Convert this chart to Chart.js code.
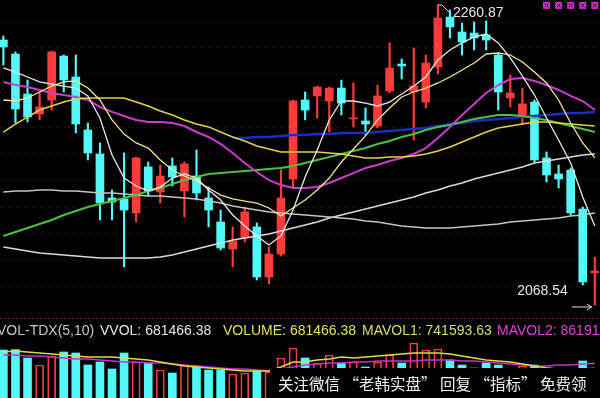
<!DOCTYPE html>
<html><head><meta charset="utf-8">
<script src="https://cdn.jsdelivr.net/npm/chart.js@4.4.1/dist/chart.umd.min.js"></script>
<style>html,body{margin:0;padding:0;background:#000;overflow:hidden}#wrap{width:600px;height:398px;position:relative;background:#000}</style>
</head><body><div id="wrap"><canvas id="c" width="600" height="398"></canvas></div>
<script>
// ---- candle data (price) ----
const opens  = [2236.8,2227.2,2199.7,2186.0,2195.6,2225.8,2211.4,2175.0,2158.5,2128.3,2127.6,2118.0,2149.6,2132.4,2150.3,2133.1,2143.4,2128.3,2111.8,2093.2,2100.8,2108.4,2074.0,2089.8,2141.3,2195.6,2198.4,2194.9,2203.8,2182.6,2181.2,2177.7,2201.8,2220.3,2201.1,2194.2,2218.3,2252.6,2242.3,2241.6,2240.3,2226.5,2197.0,2185.3,2194.2,2155.8,2144.8,2147.5,2120.7,2076.8];
const highs  = [2239.6,2228.6,2209.3,2201.1,2229.3,2226.5,2226.5,2179.8,2166.1,2133.8,2159.2,2156.4,2153.0,2150.9,2155.8,2153.0,2161.3,2135.8,2120.0,2108.4,2122.1,2111.1,2094.6,2147.5,2195.6,2201.1,2205.2,2204.5,2209.3,2207.3,2190.1,2205.9,2234.8,2223.8,2231.3,2226.5,2260.87,2257.4,2248.5,2249.2,2249.9,2227.9,2212.8,2203.8,2195.6,2159.9,2150.9,2148.9,2122.1,2087.7];
const lows   = [2219.6,2179.8,2180.5,2181.9,2188.7,2201.1,2172.9,2154.4,2113.2,2113.2,2080.9,2111.8,2129.7,2124.8,2136.5,2115.2,2126.9,2108.4,2092.6,2080.9,2098.0,2071.9,2069.2,2088.4,2135.8,2181.9,2183.2,2173.6,2185.3,2177.1,2171.6,2176.4,2200.4,2210.0,2168.1,2190.1,2213.5,2238.2,2226.5,2230.0,2230.0,2188.7,2190.8,2179.1,2153.0,2139.3,2135.1,2116.6,2068.54,2054.8];
const closes = [2232.0,2189.4,2183.9,2190.8,2228.6,2209.3,2179.1,2159.2,2124.8,2125.5,2120.0,2155.8,2133.1,2143.4,2142.7,2151.6,2131.7,2120.0,2093.9,2098.7,2118.7,2074.0,2089.8,2128.3,2194.9,2188.7,2204.5,2203.8,2193.5,2183.2,2179.1,2198.4,2217.6,2219.0,2205.2,2221.0,2251.9,2245.8,2235.4,2238.2,2236.8,2201.1,2200.4,2192.9,2154.4,2144.1,2141.3,2118.0,2070.6,2078.1];

// ---- moving averages ----
const ma5   = [2217.6,2214.8,2211.4,2208.0,2206.6,2205.2,2203.8,2198.4,2183.2,2157.8,2142.0,2136.5,2133.1,2135.8,2142.0,2144.8,2142.0,2133.8,2126.9,2116.6,2109.0,2102.2,2096.0,2102.2,2120.0,2142.7,2161.3,2181.9,2194.9,2194.9,2193.5,2191.5,2194.2,2199.7,2205.2,2211.4,2223.1,2230.0,2234.8,2238.9,2240.9,2234.8,2224.5,2212.1,2199.0,2183.2,2168.1,2152.3,2129.0,2109.0];
const ma10  = [2195.6,2194.9,2197.0,2201.1,2205.2,2208.0,2208.7,2203.8,2195.6,2181.9,2172.2,2166.1,2162.6,2154.4,2147.5,2143.4,2140.0,2135.1,2130.3,2127.6,2126.2,2124.8,2121.4,2115.9,2121.4,2126.9,2133.8,2142.0,2153.0,2161.9,2170.9,2181.9,2190.1,2197.7,2201.1,2203.8,2207.3,2211.4,2216.2,2221.0,2227.2,2227.9,2226.5,2221.7,2214.8,2207.3,2195.6,2179.8,2166.1,2155.8];
const ma20  = [2173.6,2179.1,2183.9,2188.7,2191.5,2194.2,2196.3,2197.0,2197.0,2197.0,2197.0,2194.2,2191.5,2188.0,2185.3,2181.9,2179.1,2177.1,2173.6,2170.2,2167.4,2164.0,2161.9,2159.9,2159.9,2159.9,2159.9,2159.2,2158.5,2157.1,2155.8,2155.8,2156.4,2156.4,2157.1,2158.5,2160.6,2163.3,2166.7,2170.2,2173.6,2176.4,2177.7,2179.1,2180.5,2180.5,2179.8,2179.1,2178.4,2177.7];
const ma30  = [2208.0,2205.9,2204.5,2202.5,2200.4,2199.0,2197.7,2195.6,2190.8,2187.4,2184.6,2181.9,2180.5,2180.5,2179.8,2177.7,2173.6,2170.2,2165.4,2159.2,2152.3,2146.1,2140.6,2137.2,2135.1,2135.1,2135.8,2138.6,2142.0,2145.4,2148.9,2150.9,2153.7,2155.8,2158.5,2162.6,2169.5,2177.1,2185.3,2192.9,2200.4,2205.9,2210.0,2210.7,2208.7,2205.9,2202.5,2198.4,2194.9,2188.7];
const ma60  = [2102.2,2104.9,2107.7,2110.4,2113.2,2116.6,2119.3,2122.1,2124.2,2126.2,2128.3,2130.3,2133.1,2135.1,2137.9,2140.6,2142.7,2144.8,2145.4,2146.1,2146.8,2147.5,2148.2,2148.9,2150.3,2152.3,2154.4,2156.4,2158.5,2160.6,2162.6,2165.4,2167.4,2170.2,2172.2,2175.0,2177.1,2178.4,2180.5,2182.6,2183.9,2185.3,2185.3,2184.6,2183.2,2181.9,2179.8,2177.7,2175.7,2173.6];
const ma90  = [null,null,null,null,null,null,null,null,null,null,null,null,null,null,null,null,null,null,null,2169.5,2169.5,2170.2,2170.2,2170.9,2171.6,2171.6,2172.2,2172.2,2172.9,2172.9,2172.9,2173.6,2174.3,2175.0,2175.7,2176.4,2177.7,2179.1,2179.8,2181.2,2181.9,2182.6,2183.2,2183.9,2184.6,2185.3,2186.0,2186.7,2186.7,2187.4];
const ma120 = [2132.4,2133.1,2133.1,2133.8,2133.8,2133.1,2133.1,2132.4,2131.7,2131.7,2131.0,2130.3,2129.7,2129.7,2129.0,2128.3,2127.6,2126.2,2124.8,2122.8,2121.4,2120.0,2118.7,2118.0,2117.3,2116.6,2115.9,2115.2,2114.5,2113.9,2112.5,2111.8,2110.4,2109.0,2108.4,2107.7,2107.7,2107.7,2108.4,2109.0,2109.7,2110.4,2111.8,2112.5,2113.2,2113.9,2114.5,2115.9,2116.6,2118.0];
const ma250 = [2094.6,2093.2,2091.9,2090.5,2089.8,2089.1,2088.4,2087.7,2087.1,2087.1,2087.1,2087.1,2087.1,2087.7,2089.1,2091.2,2093.2,2095.3,2097.4,2099.4,2100.8,2102.2,2103.5,2105.6,2107.7,2109.7,2111.8,2114.5,2116.6,2118.7,2120.7,2122.8,2124.8,2126.9,2129.0,2131.7,2133.8,2136.5,2138.6,2141.3,2143.4,2145.4,2147.5,2149.6,2152.3,2153.7,2155.1,2156.4,2157.8,2158.5];

// ---- volume panel ----
const volumes = [1200000,1210000,1000000,825000,1050000,1150000,1125000,825000,900000,725000,1125000,900000,875000,700000,625000,825000,800000,700000,700000,600000,625000,675000,650000,1000000,1250000,1000000,875000,1075000,875000,900000,775000,900000,1075000,875000,1375000,1200000,1225000,950000,825000,750000,875000,825000,750000,800000,825000,750000,650000,700000,925000,681466.38];
const volMa5  = [1150000,1175000,1150000,1125000,1100000,1075000,1050000,1025000,1025000,1025000,1000000,975000,950000,900000,850000,800000,775000,750000,725000,700000,675000,675000,675000,775000,900000,900000,950000,975000,1025000,1000000,1025000,1050000,1075000,1100000,1125000,1125000,1125000,1100000,1050000,1000000,950000,925000,900000,850000,800000,750000,725000,725000,725000,741593.63];
const volMa10 = [1075000,1075000,1050000,1050000,1025000,1000000,975000,975000,950000,925000,900000,900000,875000,875000,850000,825000,800000,775000,750000,725000,725000,700000,675000,725000,775000,825000,850000,875000,875000,900000,900000,925000,925000,925000,925000,950000,950000,950000,925000,925000,900000,875000,850000,825000,800000,800000,825000,825000,850000,861910.5];

// ---- reference levels / labels ----
const gridLevels = [2250.2,2231.9,2213.7,2195.4,2177.1,2158.9,2140.6,2122.3,2104.0,2085.8,2067.5];
const panelSplit = 2045.8;
const highIndex = 36, lowIndex = 48;
const markerIdx = [45,46,47,48,49];
const markerLevel = 2260.6;
const watermark = '关注微信 “老韩实盘” 回复 “指标” 免费领';

const RED = '#ff3a3a', CYAN = '#52f8f8';
const idx = opens.map((_, i) => i);
const up = closes.map((c, i) => c >= opens[i]);
const candleColors = up.map(u => u ? RED : CYAN);
const pts = arr => arr.map((v, i) => ({x: i, y: v}));
const line = (arr, color, w, axis) => ({type:'line', data: pts(arr), borderColor: color, borderWidth: w, pointRadius: 0, tension: 0, yAxisID: axis || 'y', order: 0, spanGaps: false});

const overlay = {
  id: 'overlay',
  beforeDatasetsDraw(chart) {
    const {ctx, scales:{y}} = chart;
    ctx.save();
    ctx.strokeStyle = 'rgba(110,20,20,0.75)';
    ctx.lineWidth = 1;
    ctx.setLineDash([1, 3]);
    gridLevels.forEach(v => { const py = Math.round(y.getPixelForValue(v)) + 0.5; ctx.beginPath(); ctx.moveTo(0, py); ctx.lineTo(600, py); ctx.stroke(); });
    ctx.setLineDash([2, 2]);
    ctx.strokeStyle = '#7a1818';
    const ps = Math.round(y.getPixelForValue(panelSplit)) + 0.5;
    ctx.beginPath(); ctx.moveTo(0, ps); ctx.lineTo(600, ps); ctx.stroke();
    ctx.restore();
  },
  afterDraw(chart) {
    const {ctx, scales:{x, y}} = chart;
    ctx.save();
    // high label
    const hx = x.getPixelForValue(highIndex), hy = y.getPixelForValue(highs[highIndex]);
    ctx.strokeStyle = '#dcdcdc'; ctx.lineWidth = 1;
    ctx.beginPath(); ctx.moveTo(hx, hy); ctx.lineTo(hx + 4, hy); ctx.lineTo(hx + 11, hy + 7); ctx.stroke();
    ctx.fillStyle = '#e6e6e6'; ctx.font = '14px "Liberation Sans", Arial, sans-serif'; ctx.textBaseline = 'middle'; ctx.textAlign = 'left';
    ctx.fillText(highs[highIndex].toFixed(2), hx + 15, hy + 8);
    // low label
    const lx = x.getPixelForValue(lowIndex), ly = y.getPixelForValue(lows[lowIndex]);
    ctx.textAlign = 'right';
    ctx.fillText(lows[lowIndex].toFixed(2), lx - 15, ly + 6);
    ctx.beginPath(); ctx.moveTo(lx - 11, ly + 22); ctx.lineTo(lx + 9, ly + 22); ctx.moveTo(lx + 4, ly + 19); ctx.lineTo(lx + 9, ly + 22); ctx.lineTo(lx + 4, ly + 25); ctx.stroke();
    // markers
    markerIdx.forEach(i => {
      const mx = x.getPixelForValue(i), my = y.getPixelForValue(markerLevel);
      ctx.fillStyle = '#d030d0'; ctx.fillRect(mx - 3.5, my - 3.5, 7, 7);
      ctx.strokeStyle = '#300030'; ctx.beginPath(); ctx.moveTo(mx - 2, my - 2); ctx.lineTo(mx + 2, my + 2); ctx.moveTo(mx + 2, my - 2); ctx.lineTo(mx - 2, my + 2); ctx.stroke();
    });
    // volume header
    const last = volumes.length - 1;
    const header = [
      {t: 'VOL-TDX(5,10)', x: -3, c: '#c8c8c8'},
      {t: 'VVOL: ' + volumes[last].toFixed(2), x: 100, c: '#e6e6e6'},
      {t: 'VOLUME: ' + volumes[last].toFixed(2), x: 223, c: '#e4e44c'},
      {t: 'MAVOL1: ' + volMa5[last].toFixed(2), x: 362, c: '#dcdc6a'},
      {t: 'MAVOL2: ' + volMa10[last].toFixed(2), x: 497, c: '#e040e0'}
    ];
    ctx.textAlign = 'left'; ctx.textBaseline = 'middle';
    header.forEach(h => { ctx.fillStyle = h.c; ctx.fillText(h.t, h.x, 331); });
    // watermark box
    ctx.fillStyle = '#000'; ctx.fillRect(270, 368, 330, 30);
    ctx.fillStyle = '#f0f0f0'; ctx.font = '15.5px "Noto Sans CJK SC", sans-serif';
    ctx.fillText(watermark, 278, 384);
    ctx.restore();
  }
};

new Chart(document.getElementById('c'), {
  type: 'bar',
  data: {
    datasets: [
      line(ma5, '#e8e8e8', 1.3),
      line(ma10, '#f0e890', 1.3),
      line(ma20, '#e0d448', 1.5),
      line(ma30, '#cc3ccc', 2),
      line(ma60, '#4cc040', 2),
      line(ma90, '#1a2cc8', 2.5),
      line(ma120, '#c4c4c4', 1.5),
      line(ma250, '#dadada', 1.5),
      line(volMa5, '#e0dc40', 1.5, 'yv'),
      line(volMa10, '#cc30cc', 1.5, 'yv'),
      {type:'bar', data: idx.map(i => ({x: i, y: [opens[i], closes[i]]})), backgroundColor: candleColors, barThickness: 8, grouped: false, minBarLength: 1, order: 1, yAxisID: 'y'},
      {type:'bar', data: idx.map(i => ({x: i, y: [lows[i], highs[i]]})), backgroundColor: candleColors, barThickness: 1.5, grouped: false, order: 2, yAxisID: 'y'},
      {type:'bar', data: pts(volumes), yAxisID: 'yv', backgroundColor: up.map(u => u ? 'rgba(0,0,0,0)' : CYAN), borderColor: candleColors, borderWidth: up.map(u => u ? 1 : 0), borderSkipped: 'start', barThickness: 8, grouped: false, order: 3}
    ]
  },
  options: {
    responsive: false, animation: false, devicePixelRatio: 1,
    layout: {padding: 0},
    plugins: {legend: {display: false}, tooltip: {enabled: false}},
    scales: {
      x: {type: 'linear', min: -0.28, max: 49.43, offset: false, display: false},
      y: {min: 1990.87, max: 2264.3, display: false},
      yv: {min: 0, max: 9950000, display: false}
    }
  },
  plugins: [overlay]
});
</script></body></html>
